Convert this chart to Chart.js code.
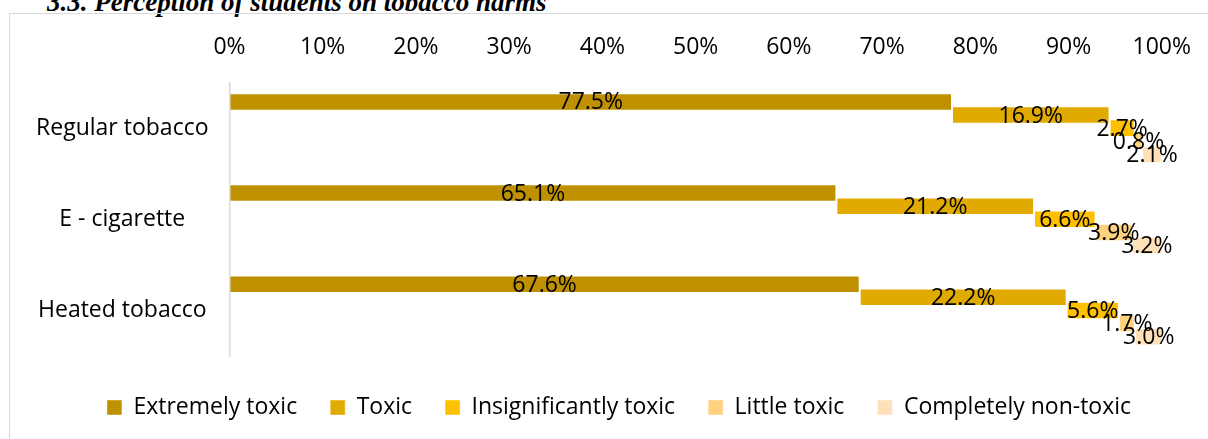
<!DOCTYPE html>
<html>
<head>
<meta charset="utf-8">
<script src="https://cdn.jsdelivr.net/npm/chart.js@4.4.0/dist/chart.umd.min.js"></script>
<style>
  html, body { margin: 0; padding: 0; background: #fff; overflow: hidden; }
  body { width: 1208px; height: 439px; position: relative; }
  #title { position: absolute; left: 47px; top: -11px; font: bold italic 27px "Liberation Serif", "DejaVu Serif", serif; line-height: 27px; white-space: nowrap; }
  #frame { position: absolute; left: 9px; top: 13px; width: 1300px; height: 500px; border: 1px solid #d9d9d9; }
  #wrap { position: absolute; left: 0; top: 0; width: 1212px; height: 439px; }
</style>
</head>
<body>
<div id="title">3.3. Perception of students on tobacco harms</div>
<div id="frame"></div>
<div id="wrap"><canvas id="chart"></canvas></div>
<script>
// data (%)
const categories = ["Regular tobacco", "E - cigarette", "Heated tobacco"];
const seriesNames = ["Extremely toxic", "Toxic", "Insignificantly toxic", "Little toxic", "Completely non-toxic"];
const extremelyToxic = [77.5, 65.1, 67.6];
const toxic = [16.9, 21.2, 22.2];
const insignificantlyToxic = [2.7, 6.6, 5.6];
const littleToxic = [0.8, 3.9, 1.7];
const nonToxic = [2.1, 3.2, 3.0];
const xTicks = [0, 10, 20, 30, 40, 50, 60, 70, 80, 90, 100];

const colors = ["#BF9000", "#E1AA00", "#FFC000", "#FFD27F", "#FFE0B8"];
const FONT = "Open Sans";

// each series starts where the previous one ended (waterfall-like stacked look)
const allSeries = [extremelyToxic, toxic, insignificantlyToxic, littleToxic, nonToxic];
const running = categories.map(() => 0);
const datasets = allSeries.map((vals, i) => {
    const ranges = vals.map((v, j) => {
        const r = [running[j], running[j] + v];
        running[j] += v;
        return r;
    });
    return {
        label: seriesNames[i],
        data: ranges,
        values: vals,
        backgroundColor: colors[i],
        borderColor: "rgba(255,255,255,0.45)",
        borderWidth: 1,
        borderSkipped: false,
        barPercentage: 1.34,
        categoryPercentage: 0.72,
    };
});

// value labels centred on each bar
const barLabels = {
    id: "barLabels",
    afterDatasetsDraw(chart) {
        const ctx = chart.ctx;
        ctx.save();
        ctx.font = `23px "${FONT}"`;
        ctx.fillStyle = "#000";
        ctx.textAlign = "center";
        ctx.textBaseline = "middle";
        chart.data.datasets.forEach((ds, i) => {
            chart.getDatasetMeta(i).data.forEach((bar, j) => {
                const cx = (bar.x + bar.base) / 2;
                ctx.fillText(ds.values[j].toFixed(1) + "%", cx, bar.y + 1);
            });
        });
        ctx.restore();
    }
};

// move the legend to where the original sits
const legendPlace = {
    id: "legendPlace",
    afterLayout(chart) {
        const lg = chart.legend;
        const pad = lg.options.labels.padding;
        const dx = 619 - (lg.left + lg.right) / 2;
        const dy = 407.5 - (lg.top + pad + 23 / 2);
        lg.left += dx; lg.right += dx;
        lg.top += dy; lg.bottom += dy;
    }
};

new Chart(document.getElementById("chart"), {
    type: "bar",
    data: { labels: categories, datasets },
    plugins: [barLabels, legendPlace],
    options: {
        indexAxis: "y",
        responsive: true,
        maintainAspectRatio: false,
        animation: false,
        layout: { padding: { left: 10, right: 41, top: 13, bottom: 17 } },
        scales: {
            x: {
                position: "top",
                min: 0,
                max: 100,
                afterBuildTicks: (scale) => { scale.ticks = xTicks.map(v => ({ value: v })); },
                ticks: {
                    callback: (v) => v + "%",
                    color: "#000",
                    font: { family: FONT, size: 23 },
                    padding: 21,
                    maxRotation: 0,
                },
                grid: { display: false, drawTicks: false },
                border: { display: false },
            },
            y: {
                afterFit: (scale) => { scale.width = 219.5; },
                ticks: {
                    color: "#000",
                    font: { family: FONT, size: 23 },
                    crossAlign: "center",
                    padding: 21,
                },
                grid: { display: false, drawTicks: false },
                border: { color: "#d9d9d9", width: 1.5 },
            },
        },
        plugins: {
            legend: {
                position: "bottom",
                labels: {
                    color: "#000",
                    font: { family: FONT, size: 23 },
                    boxWidth: 15,
                    boxHeight: 15,
                    padding: 33,
                },
            },
            tooltip: { enabled: false },
        },
    },
});
</script>
</body>
</html>
